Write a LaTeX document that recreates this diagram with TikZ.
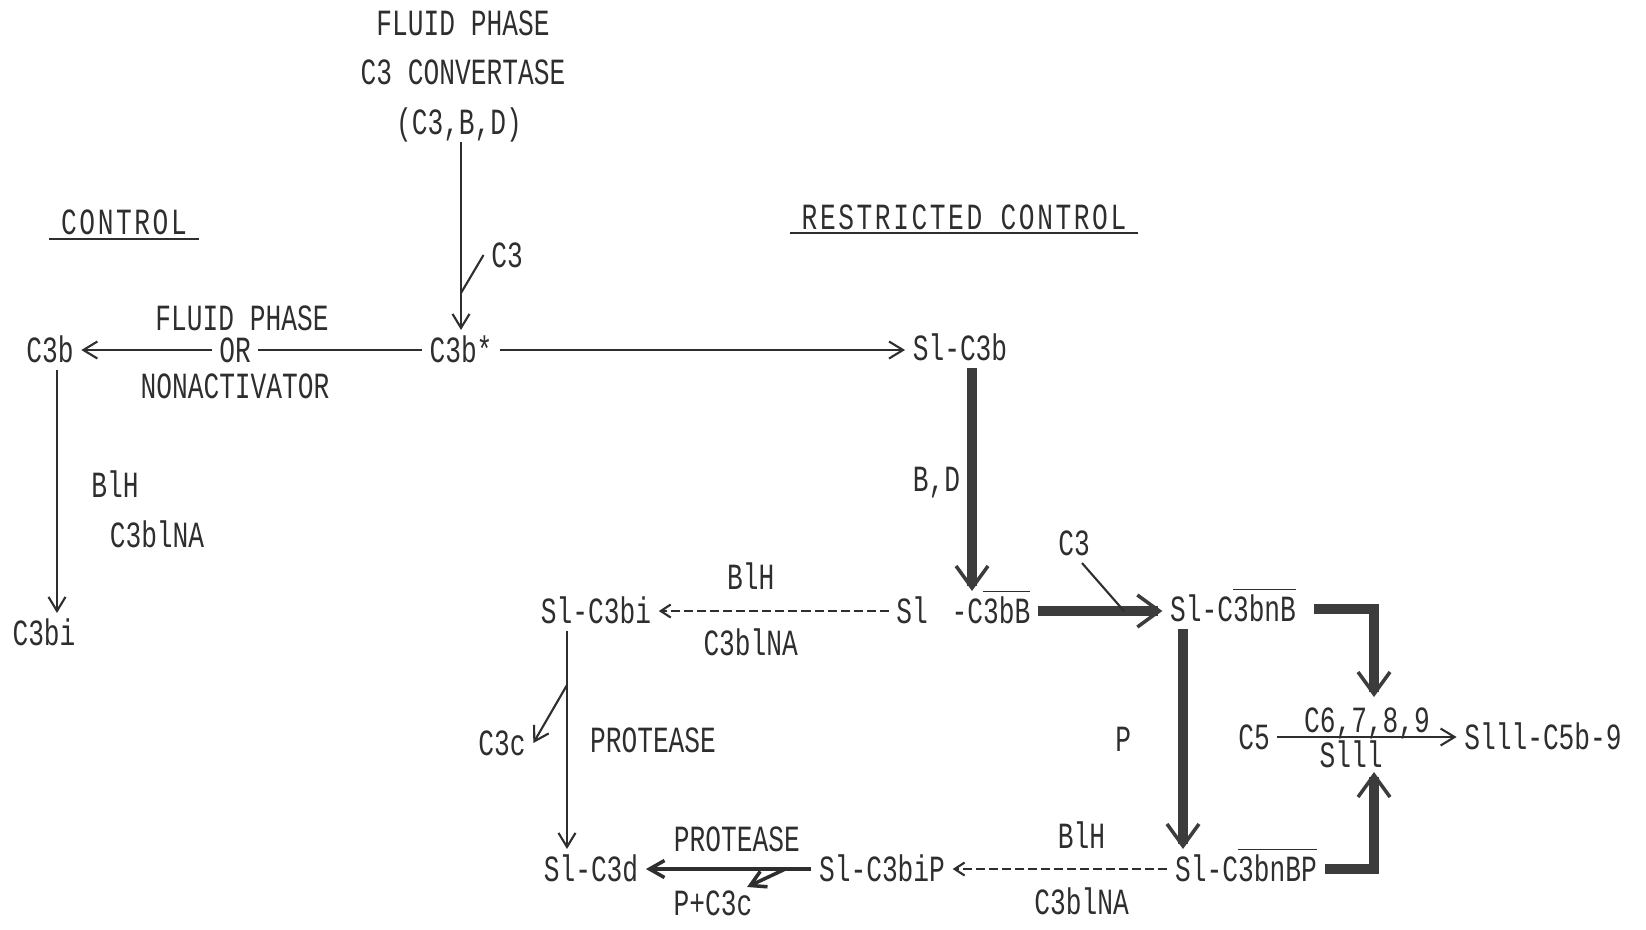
\documentclass[tikz,border=0pt]{standalone}
\usepackage{fontspec}
\usepackage{tikz}
\usetikzlibrary{arrows.meta}
\newfontfamily\typer{Liberation Mono}[FakeStretch=0.71]
\newfontfamily\typerwide{Liberation Mono}[FakeStretch=0.71,LetterSpace=7]
\definecolor{ink}{HTML}{2E2E2E}
\definecolor{heavy}{HTML}{3C3C3C}

\begin{document}
\begin{tikzpicture}[x=0.01cm,y=-0.01cm,
  txt/.style={font=\typer\fontsize{10.5}{12}\selectfont,text=ink,inner sep=2pt,text height=7pt,text depth=0pt},
  tight/.style={txt,inner ysep=0.5pt},
  head/.style={txt,font=\typerwide\fontsize{10.5}{12}\selectfont},
  plainline/.style={draw=ink,line width=0.6pt},
  arrowline/.style={plainline,-{Straight Barb[length=1.4mm,width=1.7mm]}},
  brokenline/.style={plainline,dash pattern=on 0.9mm off 0.4mm,-{Straight Barb[length=1mm,width=1.3mm]}},
  mediumline/.style={draw=ink,line width=1pt,-{Straight Barb[length=1.5mm,width=1.7mm]}},
  heavyline/.style={draw=heavy,line width=2.8pt,-{Straight Barb[length=2.2mm,width=3.2mm,line width=1pt]}}]
\useasboundingbox (0,0) rectangle (1646,929);
\node[txt] (fp1) at (463,23) {FLUID PHASE};
\node[txt] (fp2) at (463,72) {C3 CONVERTASE};
\node[txt] (fp3) at (459,122) {(C3,B,D)};
\node[head] (ctrl) at (124,222) {CONTROL};
\node[head] (rctrl) at (964,217) {RESTRICTED CONTROL};
\draw[plainline] ([xshift=-0.4mm,yshift=-0.5mm]ctrl.base west) -- ([xshift=0.4mm,yshift=-0.5mm]ctrl.base east);
\draw[plainline] ([xshift=-0.4mm,yshift=-0.4mm]rctrl.base west) -- ([xshift=0.4mm,yshift=-0.4mm]rctrl.base east);
\node[txt] (c3bs) at (461,350) {C3b*};
\node[txt] (c3a) at (507,255) {C3};
\node[txt] (c3b) at (50,350) {C3b};
\node[tight] (or) at (235,350) {OR};
\node[tight] (fp4) at (242,318) {FLUID PHASE};
\node[tight] (nonact) at (235,386) {NONACTIVATOR};
\node[txt] (c3bi) at (44,633) {C3bi};
\node[txt] (blh1) at (115,485) {BlH};
\node[txt] (ina1) at (157,535) {C3blNA};
\node[txt] (sl3b) at (960,348) {Sl-C3b};
\node[txt] (sl) at (912,611) {Sl};
\node[txt] (c3bb) at (991,611) {-C$\overline{\mbox{3bB}}$};
\node[txt] (sl3bi) at (596,611) {Sl-C3bi};
\node[txt] (c3c) at (1074,543) {C3};
\node[txt] (slbnb) at (1233,609) {Sl-C$\overline{\mbox{3bnB}}$};
\node[txt] (slbnbp) at (1246,869) {Sl-C$\overline{\mbox{3bnBP}}$};
\node[txt] (sl3bip) at (882,869) {Sl-C3biP};
\node[txt] (sl3d) at (591,869) {Sl-C3d};
\node[txt] (pc3c) at (713,903) {P+C3c};
\node[txt] (c3cc) at (502,743) {C3c};
\node[txt] (c5) at (1254,737) {C5};
\node[tight] (c6) at (1367,720) {C6,7,8,9};
\node[tight] (s111) at (1351,755) {Slll};
\node[txt] (mac) at (1543,737) {Slll-C5b-9};
\coordinate (jn) at (1374,737);
\coordinate (j1) at (461,293);
\coordinate (j2) at (1124,611);
\coordinate (j3) at (567,685);
\draw[arrowline] (fp3.south -| c3bs) -- (c3bs);
\draw[plainline] (j1) -- (c3a.west);
\draw[plainline] (c3bs) -- (or);
\draw[arrowline] (or) -- (c3b);
\draw[arrowline] (c3bs.east) -- (c3bs.east -| sl3b.west);
\draw[arrowline] ([xshift=0.7mm]c3b.south) -- ([xshift=0.7mm]c3b.south |- c3bi.north);
\draw[heavyline] ([xshift=1.2mm]sl3b.south) -- ([xshift=1.2mm]sl3b.south |- c3bb.north) node[txt,pos=.5,left] (bd) {B,D};
\draw[brokenline] (sl) -- (sl3bi) node[txt,pos=.6,above=1.3mm] (blh2) {BlH} node[txt,pos=.6,below=1.2mm] (ina2) {C3blNA};
\draw[heavyline] (c3bb.east) -- (c3bb.east -| slbnb.west);
\draw[plainline] ([xshift=0.8mm]c3c.south) -- (j2);
\draw[heavyline] ([xshift=1mm]slbnb.east) -| ([yshift=4mm]jn);
\draw[heavyline] (slbnbp.east) -| ([yshift=-3.5mm]jn);
\draw[heavyline] ([xshift=-5mm]slbnb.south) -- ([xshift=-5mm]slbnb.south |- slbnbp.north) node[txt,pos=.5,left=4mm] (p) {P};
\draw[arrowline] (c5) -- (mac);
\draw[brokenline] (slbnbp) -- (sl3bip) node[txt,pos=.4,above=1.25mm] (blh3) {BlH} node[txt,pos=.4,below=1.25mm] (ina3) {C3blNA};
\draw[mediumline] (sl3bip) -- (sl3d) node[txt,pos=.45,above=0.9mm] (prot2) {PROTEASE};
\draw[mediumline] ([xshift=-2.6mm]sl3bip.west) -- ([xshift=-1.3mm,yshift=-0.4mm]pc3c.north east);
\draw[arrowline] ([xshift=-2.9mm]sl3bi.south) -- ([xshift=-2.9mm]sl3bi.south |- sl3d.north) node[txt,pos=.5,right=1.5mm] (prot1) {PROTEASE};
\draw[arrowline] (j3) -- (c3cc.east);
\end{tikzpicture}
\end{document}
